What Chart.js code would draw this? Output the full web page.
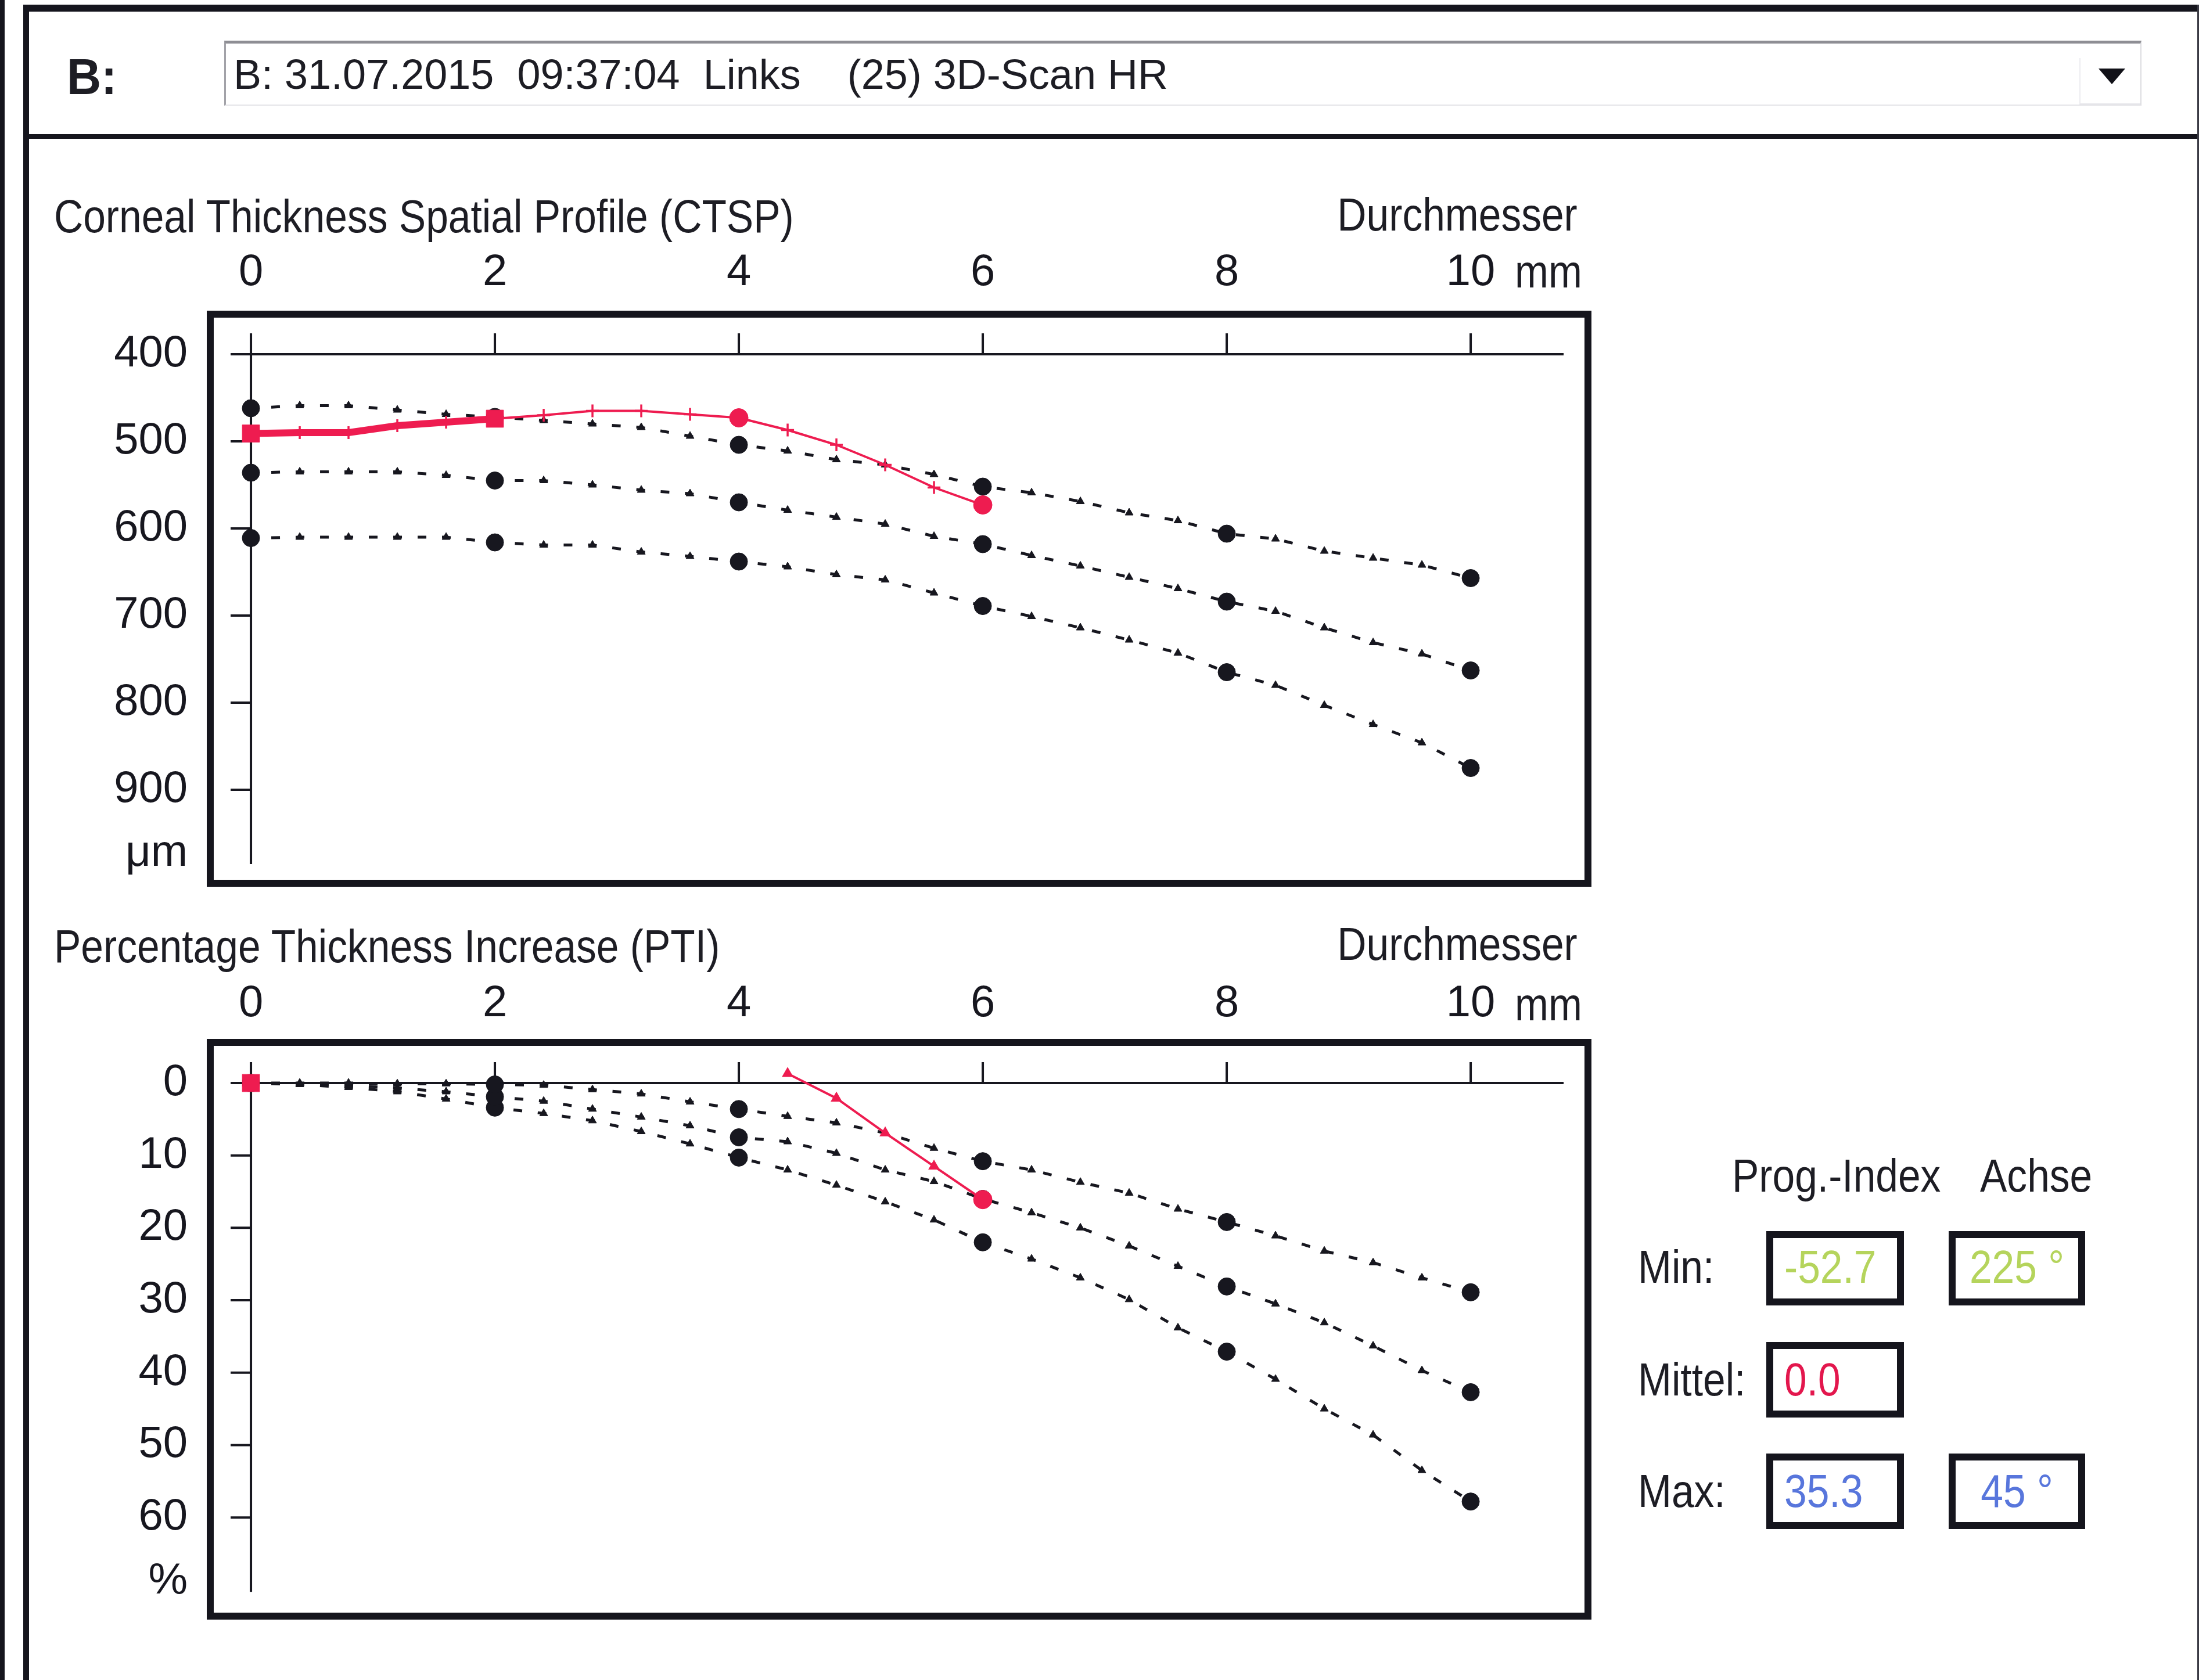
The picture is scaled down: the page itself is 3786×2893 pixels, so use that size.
<!DOCTYPE html>
<html>
<head>
<meta charset="utf-8">
<title>CTSP / PTI</title>
<script src="https://cdn.jsdelivr.net/npm/chart.js@4.4.1/dist/chart.umd.min.js"></script>
<style>
  html, body { margin: 0; padding: 0; background: #fff; }
  #page { position: relative; width: 3786px; height: 2893px; overflow: hidden; background: #fff;
          font-family: "Liberation Sans", Arial, sans-serif; color: #1d1d24; }
  .t { position: absolute; white-space: pre; font-size: 79px; line-height: 79px;
       transform: scaleX(0.88); transform-origin: 0 0; }
  .tr { transform-origin: 100% 0; }
  .tc { transform-origin: 50% 0; text-align: center; }
  .rule { position: absolute; background: #15151d; }
  .frame { position: absolute; border: 12px solid #15151d; box-sizing: border-box; }
  canvas { position: absolute; left: 0; }
</style>
</head>
<body>
<div id="page">
  <!-- window frame -->
  <div class="rule" style="left:0;top:0;width:8px;height:2893px;"></div>
  <div class="rule" style="left:40px;top:8px;width:10px;height:2885px;"></div>
  <div class="rule" style="left:40px;top:8px;width:3746px;height:12px;"></div>
  <div class="rule" style="left:50px;top:231px;width:3736px;height:8px;"></div>
  <div class="rule" style="left:3783px;top:8px;width:3px;height:2885px;background:#3a3a44;"></div>

  <!-- exam selector -->
  <div style="position:absolute;left:115px;top:88px;font-size:88px;line-height:88px;font-weight:bold;white-space:pre;transform:scaleX(0.93);transform-origin:0 0;">B:</div>
  <div style="position:absolute;left:386px;top:70px;width:3301px;height:112px;box-sizing:border-box;border-top:5px solid #8e8e94;border-left:3px solid #a2a2a8;border-right:2px solid #dcdce0;border-bottom:2px solid #e4e4e8;"></div>
  <div style="position:absolute;left:402px;top:92px;font-size:72px;line-height:72px;white-space:pre;">B: 31.07.2015  09:37:04  Links    (25) 3D-Scan HR</div>
  <div style="position:absolute;left:3580px;top:100px;width:105px;height:80px;box-sizing:border-box;border-left:2px solid #ececf0;border-bottom:2px solid #e6e6ea;"></div>
  <div style="position:absolute;left:3613px;top:118px;width:0;height:0;border-left:23px solid transparent;border-right:23px solid transparent;border-top:27px solid #111118;"></div>

  <canvas id="ctsp" width="2780" height="1150" style="top:400px;"></canvas>
  <canvas id="pti" width="2780" height="1150" style="top:1660px;"></canvas>

  <!-- chart captions -->
  <div class="t" style="left:93px;top:333px;">Corneal Thickness Spatial Profile (CTSP)</div>
  <div class="t tr" style="right:1070px;top:330px;">Durchmesser</div>
  <div class="t" style="left:2608px;top:428px;">mm</div>

  <div class="t" style="left:93px;top:1590px;">Percentage Thickness Increase (PTI)</div>
  <div class="t tr" style="right:1070px;top:1586px;">Durchmesser</div>
  <div class="t" style="left:2608px;top:1690px;">mm</div>

  <!-- progression index panel -->
  <div class="t" style="left:2982px;top:1985px;">Prog.-Index</div>
  <div class="t" style="left:3409px;top:1985px;">Achse</div>

  <div class="t" style="left:2820px;top:2142px;">Min:</div>
  <div class="t" style="left:2820px;top:2336px;">Mittel:</div>
  <div class="t" style="left:2820px;top:2528px;">Max:</div>

  <div class="frame" style="left:3041px;top:2120px;width:237px;height:128px;"></div>
  <div class="frame" style="left:3355px;top:2120px;width:235px;height:128px;"></div>
  <div class="frame" style="left:3041px;top:2311px;width:237px;height:130px;"></div>
  <div class="frame" style="left:3041px;top:2503px;width:237px;height:130px;"></div>
  <div class="frame" style="left:3355px;top:2503px;width:235px;height:130px;"></div>

  <div class="t" style="left:3072px;top:2142px;color:#b5d45c;">-52.7</div>
  <div class="t tc" style="left:3355px;width:235px;top:2142px;color:#b5d45c;">225 °</div>
  <div class="t" style="left:3072px;top:2336px;color:#e3174d;">0.0</div>
  <div class="t" style="left:3072px;top:2528px;color:#5876dc;">35.3</div>
  <div class="t tc" style="left:3355px;width:235px;top:2528px;color:#5876dc;">45 °</div>
</div>

<script>
// Measurement positions across the cornea (mm from the thinnest point)
const diameters = [0, 0.4, 0.8, 1.2, 1.6, 2, 2.4, 2.8, 3.2, 3.6, 4, 4.4, 4.8, 5.2, 5.6, 6,
                   6.4, 6.8, 7.2, 7.6, 8, 8.4, 8.8, 9.2, 9.6, 10];
const diameterTicks = [0, 2, 4, 6, 8, 10];

// CTSP: corneal thickness (µm) – normal population bands and the examined eye
const ctspUpper  = [462, 459, 459, 464, 469, 472, 476, 480, 484, 494, 504, 511, 521, 527, 538, 552,
                    559, 569, 582, 591, 606, 612, 626, 634, 642, 657];
const ctspMiddle = [536, 535, 535, 535, 539, 545, 545, 550, 556, 560, 570, 579, 587, 595, 609, 618,
                    631, 643, 656, 669, 684, 695, 714, 731, 744, 763];
const ctspLower  = [611, 610, 610, 610, 610, 616, 619, 619, 627, 632, 638, 644, 653, 659, 674, 689,
                    701, 714, 728, 743, 765, 780, 803, 825, 846, 875];
const ctspEye    = [491, 490, 490, 482, 478, 474, 470, 465, 465, 469, 473, 487, 504, 527, 553, 573];
const ctspTicks  = [400, 500, 600, 700, 800, 900];
const ctspUnit   = 'μm';

// PTI: percentage thickness increase (%) – normal population bands and the examined eye
const ptiLow    = [0, 0, 0, 0.1, 0.1, 0.2, 0.3, 0.9, 1.5, 2.6, 3.6, 4.6, 5.5, 6.9, 9.0, 10.8,
                   12.0, 13.7, 15.2, 17.4, 19.2, 21.1, 23.2, 24.8, 26.9, 28.9];
const ptiMiddle = [0, 0.1, 0.3, 0.7, 1.2, 1.9, 2.5, 3.6, 4.7, 5.9, 7.5, 8.1, 9.7, 12.0, 13.6, 16.0,
                   17.9, 20.0, 22.5, 25.3, 28.1, 30.5, 33.1, 36.3, 39.7, 42.7];
const ptiHigh   = [0, 0.2, 0.6, 1.2, 2.2, 3.4, 4.2, 5.2, 6.7, 8.4, 10.3, 12.0, 14.1, 16.4, 18.9, 22.0,
                   24.3, 26.9, 29.9, 33.8, 37.1, 40.9, 45.0, 48.6, 53.5, 57.8];
const ptiEye    = [0, null, null, null, null, null, null, null, null, null, null, -1.3, 2.1, 6.9, 11.5, 16.1];
const ptiTicks  = [0, 10, 20, 30, 40, 50, 60];
const ptiUnit   = '%';

const INK = '#17171f';
const RED = '#ee1c50';
const TICK_FONT = { family: "'Liberation Sans', Arial, sans-serif", size: 76 };

const isMain = i => i % 5 === 0;   // every 2 mm gets a large marker

function toPoints(values) {
  return values.map((v, i) => ({ x: diameters[i], y: v }));
}

function normBand(values) {
  return {
    data: toPoints(values),
    borderColor: INK,
    borderWidth: 5,
    borderDash: [15, 27],
    borderDashOffset: 7,
    pointStyle: values.map((_, i) => isMain(i) ? 'circle' : 'triangle'),
    pointRadius: values.map((_, i) => isMain(i) ? 15 : 8),
    pointBackgroundColor: INK,
    pointBorderColor: INK,
    pointBorderWidth: 1,
    tension: 0,
    fill: false
  };
}

function eyeCurve(values, smallStyle, thickUntil) {
  return {
    data: toPoints(values),
    borderColor: RED,
    borderWidth: 4,
    segment: { borderWidth: c => (c.p0DataIndex < thickUntil ? 12 : 4) },
    pointStyle: values.map((_, i) => (i === 0 || i === 5) ? 'rect' : (isMain(i) ? 'circle' : smallStyle)),
    pointRadius: values.map((_, i) => (i === 0 || i === 5) ? 21 : (isMain(i) ? 16 : (smallStyle === 'cross' ? 11 : 8))),
    pointBorderWidth: values.map((_, i) => isMain(i) ? 1 : 3.5),
    pointBackgroundColor: RED,
    pointBorderColor: RED,
    tension: 0,
    fill: false,
    spanGaps: false
  };
}

// Inner axes (cross at the origin value) plus the heavy frame around the plot area
const axisFrame = {
  id: 'axisFrame',
  beforeDatasetsDraw(chart, args, opts) {
    const { ctx, scales: { x, y } } = chart;
    const x0 = x.getPixelForValue(0);
    const yAxis = y.getPixelForValue(opts.origin);
    const yEnd = y.getPixelForValue(opts.ticks[opts.ticks.length - 1]) + 128;
    ctx.save();
    ctx.strokeStyle = INK;
    ctx.lineWidth = 4;
    ctx.beginPath();
    ctx.moveTo(x0 - 35, yAxis);
    ctx.lineTo(x.getPixelForValue(diameterTicks[diameterTicks.length - 1]) + 160, yAxis);
    diameterTicks.forEach(t => {
      const px = x.getPixelForValue(t);
      ctx.moveTo(px, yAxis);
      ctx.lineTo(px, yAxis - 36);
    });
    ctx.moveTo(x0, yAxis - 36);
    ctx.lineTo(x0, yEnd);
    opts.ticks.forEach(t => {
      const py = y.getPixelForValue(t);
      ctx.moveTo(x0 - 35, py);
      ctx.lineTo(x0, py);
    });
    ctx.stroke();
    ctx.restore();
  },
  afterDraw(chart) {
    const { ctx, chartArea: a } = chart;
    ctx.save();
    ctx.strokeStyle = '#15151d';
    ctx.lineWidth = 12;
    ctx.strokeRect(a.left - 6, a.top - 6, a.right - a.left + 12, a.bottom - a.top + 12);
    ctx.restore();
  }
};

function zeroPadding(s) {
  s.paddingLeft = 0; s.paddingRight = 0; s.paddingTop = 0; s.paddingBottom = 0;
}

function buildChart(id, datasets, cfg) {
  return new Chart(document.getElementById(id), {
    type: 'line',
    data: { datasets },
    options: {
      responsive: false,
      animation: false,
      devicePixelRatio: 1,
      events: [],
      layout: { autoPadding: false, padding: { left: 0, top: 0, right: 52, bottom: cfg.padBottom } },
      plugins: {
        legend: { display: false },
        tooltip: { enabled: false },
        axisFrame: { origin: cfg.ticks[0], ticks: cfg.ticks }
      },
      scales: {
        x: {
          type: 'linear',
          position: 'top',
          min: -0.305,
          max: 10.933,
          afterBuildTicks: s => { s.ticks = diameterTicks.map(v => ({ value: v })); },
          afterFit: s => { s.height = cfg.topBand; zeroPadding(s); },
          ticks: { font: TICK_FONT, color: INK, padding: cfg.xPad, maxRotation: 0, autoSkip: false,
                   callback: v => String(v) },
          grid: { display: false, drawTicks: false },
          border: { display: false }
        },
        y: {
          type: 'linear',
          position: 'left',
          reverse: true,
          min: cfg.min,
          max: cfg.max,
          afterBuildTicks: s => {
            s.ticks = cfg.ticks.map(v => ({ value: v })).concat([{ value: cfg.unitAt }]);
          },
          afterFit: s => { s.width = 368; zeroPadding(s); },
          ticks: { font: TICK_FONT, color: INK, padding: 45, autoSkip: false,
                   callback: v => (v === cfg.unitAt ? cfg.unit : String(v)) },
          grid: { display: false, drawTicks: false },
          border: { display: false }
        }
      }
    },
    plugins: [axisFrame]
  });
}

buildChart('ctsp', [
  eyeCurve(ctspEye, 'cross', 5),
  normBand(ctspUpper),
  normBand(ctspMiddle),
  normBand(ctspLower)
], { min: 358, max: 1003.3, ticks: ctspTicks, unit: ctspUnit, unitAt: 973.3,
     topBand: 147, padBottom: 35, xPad: 31 });

buildChart('pti', [
  eyeCurve(ptiEye, 'triangle', 0),
  normBand(ptiLow),
  normBand(ptiMiddle),
  normBand(ptiHigh)
], { min: -5.13, max: 73.14, ticks: ptiTicks, unit: ptiUnit, unitAt: 68.8,
     topBand: 141, padBottom: 33, xPad: 26 });
</script>
</body>
</html>
